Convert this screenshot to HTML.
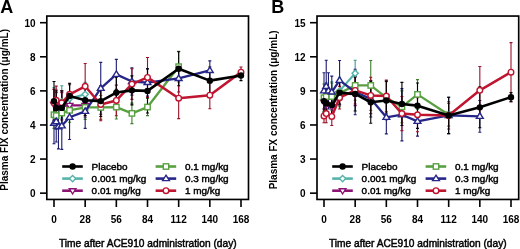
<!DOCTYPE html>
<html><head><meta charset="utf-8"><style>
html,body{margin:0;padding:0;background:#fff;}
svg{display:block;will-change:transform;filter:blur(0.35px);}
text{font-family:"Liberation Sans",sans-serif;fill:#000;}
.tk{font-size:10px;font-weight:bold;}
.let{font-size:18px;font-weight:bold;}
.yl{font-size:10px;font-weight:bold;}
.xl{font-size:10px;stroke:#000;stroke-width:0.45px;}
.lg{font-size:9.95px;stroke:#000;stroke-width:0.45px;}
</style></head><body>
<svg width="520" height="249" viewBox="0 0 520 249">
<rect width="520" height="249" fill="#fff"/>
<rect x="46.8" y="16.05" width="201.7" height="183.4" fill="none" stroke="#000" stroke-width="1.65"/>
<line x1="40" y1="193.15" x2="47" y2="193.15" stroke="#000" stroke-width="1.6"/>
<text x="35.6" y="197.45" text-anchor="end" class="tk">0</text>
<line x1="40" y1="159.06" x2="47" y2="159.06" stroke="#000" stroke-width="1.6"/>
<text x="35.6" y="163.36" text-anchor="end" class="tk">2</text>
<line x1="40" y1="124.97" x2="47" y2="124.97" stroke="#000" stroke-width="1.6"/>
<text x="35.6" y="129.27" text-anchor="end" class="tk">4</text>
<line x1="40" y1="90.88" x2="47" y2="90.88" stroke="#000" stroke-width="1.6"/>
<text x="35.6" y="95.18" text-anchor="end" class="tk">6</text>
<line x1="40" y1="56.79" x2="47" y2="56.79" stroke="#000" stroke-width="1.6"/>
<text x="35.6" y="61.09" text-anchor="end" class="tk">8</text>
<line x1="40" y1="22.70" x2="47" y2="22.70" stroke="#000" stroke-width="1.6"/>
<text x="35.6" y="27.00" text-anchor="end" class="tk">10</text>
<line x1="54.00" y1="200" x2="54.00" y2="207" stroke="#000" stroke-width="1.6"/>
<text x="54.00" y="222.5" text-anchor="middle" class="tk">0</text>
<line x1="85.17" y1="200" x2="85.17" y2="207" stroke="#000" stroke-width="1.6"/>
<text x="85.17" y="222.5" text-anchor="middle" class="tk">28</text>
<line x1="116.33" y1="200" x2="116.33" y2="207" stroke="#000" stroke-width="1.6"/>
<text x="116.33" y="222.5" text-anchor="middle" class="tk">56</text>
<line x1="147.50" y1="200" x2="147.50" y2="207" stroke="#000" stroke-width="1.6"/>
<text x="147.50" y="222.5" text-anchor="middle" class="tk">84</text>
<line x1="178.67" y1="200" x2="178.67" y2="207" stroke="#000" stroke-width="1.6"/>
<text x="178.67" y="222.5" text-anchor="middle" class="tk">112</text>
<line x1="209.83" y1="200" x2="209.83" y2="207" stroke="#000" stroke-width="1.6"/>
<text x="209.83" y="222.5" text-anchor="middle" class="tk">140</text>
<line x1="241.00" y1="200" x2="241.00" y2="207" stroke="#000" stroke-width="1.6"/>
<text x="241.00" y="222.5" text-anchor="middle" class="tk">168</text>
<text x="0.3" y="12.6" class="let">A</text>
<text transform="translate(7.6,109.9) rotate(-90)" text-anchor="middle" class="yl">Plasma FIX concentration (μg/mL)</text>
<text x="59.0" y="246.5" textLength="177.6" lengthAdjust="spacingAndGlyphs" class="xl">Time after ACE910 administration (day)</text>
<path d="M54.00 87.47V118.15M52.50 87.47H55.50M52.50 118.15H55.50" stroke="#3f9a92" stroke-width="1.1" fill="none"/>
<path d="M56.23 89.18V119.86M54.73 89.18H57.73M54.73 119.86H57.73" stroke="#3f9a92" stroke-width="1.1" fill="none"/>
<path d="M61.79 85.77V118.15M60.29 85.77H63.29M60.29 118.15H63.29" stroke="#3f9a92" stroke-width="1.1" fill="none"/>
<path d="M69.58 84.91V112.19M68.08 84.91H71.08M68.08 112.19H71.08" stroke="#3f9a92" stroke-width="1.1" fill="none"/>
<path d="M85.17 82.36V106.22M83.67 82.36H86.67M83.67 106.22H86.67" stroke="#3f9a92" stroke-width="1.1" fill="none"/>
<path d="M54.00 89.18V119.86M52.50 89.18H55.50M52.50 119.86H55.50" stroke="#700c5c" stroke-width="1.1" fill="none"/>
<path d="M56.23 92.58V119.86M54.73 92.58H57.73M54.73 119.86H57.73" stroke="#700c5c" stroke-width="1.1" fill="none"/>
<path d="M61.79 92.58V119.86M60.29 92.58H63.29M60.29 119.86H63.29" stroke="#700c5c" stroke-width="1.1" fill="none"/>
<path d="M69.58 93.44V117.30M68.08 93.44H71.08M68.08 117.30H71.08" stroke="#700c5c" stroke-width="1.1" fill="none"/>
<path d="M85.17 93.44V117.30M83.67 93.44H86.67M83.67 117.30H86.67" stroke="#700c5c" stroke-width="1.1" fill="none"/>
<path d="M54.00 101.11V128.38M52.50 101.11H55.50M52.50 128.38H55.50" stroke="#3f7f30" stroke-width="1.1" fill="none"/>
<path d="M56.23 101.96V129.23M54.73 101.96H57.73M54.73 129.23H57.73" stroke="#3f7f30" stroke-width="1.1" fill="none"/>
<path d="M61.79 99.40V126.67M60.29 99.40H63.29M60.29 126.67H63.29" stroke="#3f7f30" stroke-width="1.1" fill="none"/>
<path d="M69.58 98.38V122.24M68.08 98.38H71.08M68.08 122.24H71.08" stroke="#3f7f30" stroke-width="1.1" fill="none"/>
<path d="M85.17 95.48V119.35M83.67 95.48H86.67M83.67 119.35H86.67" stroke="#3f7f30" stroke-width="1.1" fill="none"/>
<path d="M100.75 95.48V119.35M99.25 95.48H102.25M99.25 119.35H102.25" stroke="#3f7f30" stroke-width="1.1" fill="none"/>
<path d="M116.33 95.14V119.00M114.83 95.14H117.83M114.83 119.00H117.83" stroke="#3f7f30" stroke-width="1.1" fill="none"/>
<path d="M131.92 103.15V123.61M130.42 103.15H133.42M130.42 123.61H133.42" stroke="#3f7f30" stroke-width="1.1" fill="none"/>
<path d="M147.50 98.55V115.60M146.00 98.55H149.00M146.00 115.60H149.00" stroke="#3f7f30" stroke-width="1.1" fill="none"/>
<path d="M178.67 51.34V82.02M177.17 51.34H180.17M177.17 82.02H180.17" stroke="#3f7f30" stroke-width="1.1" fill="none"/>
<path d="M54.00 102.81V143.72M52.50 102.81H55.50M52.50 143.72H55.50" stroke="#1c1c70" stroke-width="1.1" fill="none"/>
<path d="M56.23 101.11V142.01M54.73 101.11H57.73M54.73 142.01H57.73" stroke="#1c1c70" stroke-width="1.1" fill="none"/>
<path d="M58.45 104.52V148.83M56.95 104.52H59.95M56.95 148.83H59.95" stroke="#1c1c70" stroke-width="1.1" fill="none"/>
<path d="M61.79 102.30V149.34M60.29 102.30H63.29M60.29 149.34H63.29" stroke="#1c1c70" stroke-width="1.1" fill="none"/>
<path d="M69.58 95.14V139.46M68.08 95.14H71.08M68.08 139.46H71.08" stroke="#1c1c70" stroke-width="1.1" fill="none"/>
<path d="M85.17 94.29V128.38M83.67 94.29H86.67M83.67 128.38H86.67" stroke="#1c1c70" stroke-width="1.1" fill="none"/>
<path d="M100.75 62.41V114.23M99.25 62.41H102.25M99.25 114.23H102.25" stroke="#1c1c70" stroke-width="1.1" fill="none"/>
<path d="M116.33 59.35V89.35M114.83 59.35H117.83M114.83 89.35H117.83" stroke="#1c1c70" stroke-width="1.1" fill="none"/>
<path d="M131.92 67.87V95.14M130.42 67.87H133.42M130.42 95.14H133.42" stroke="#1c1c70" stroke-width="1.1" fill="none"/>
<path d="M147.50 68.89V96.16M146.00 68.89H149.00M146.00 96.16H149.00" stroke="#1c1c70" stroke-width="1.1" fill="none"/>
<path d="M178.67 64.80V92.07M177.17 64.80H180.17M177.17 92.07H180.17" stroke="#1c1c70" stroke-width="1.1" fill="none"/>
<path d="M209.83 60.88V79.97M208.33 60.88H211.33M208.33 79.97H211.33" stroke="#1c1c70" stroke-width="1.1" fill="none"/>
<path d="M54.00 89.18V116.45M52.50 89.18H55.50M52.50 116.45H55.50" stroke="#9c1228" stroke-width="1.1" fill="none"/>
<path d="M56.23 86.11V114.40M54.73 86.11H57.73M54.73 114.40H57.73" stroke="#9c1228" stroke-width="1.1" fill="none"/>
<path d="M61.79 90.88V114.74M60.29 90.88H63.29M60.29 114.74H63.29" stroke="#9c1228" stroke-width="1.1" fill="none"/>
<path d="M69.58 84.06V104.52M68.08 84.06H71.08M68.08 104.52H71.08" stroke="#9c1228" stroke-width="1.1" fill="none"/>
<path d="M85.17 63.44V109.12M83.67 63.44H86.67M83.67 109.12H86.67" stroke="#9c1228" stroke-width="1.1" fill="none"/>
<path d="M100.75 88.32V120.71M99.25 88.32H102.25M99.25 120.71H102.25" stroke="#9c1228" stroke-width="1.1" fill="none"/>
<path d="M116.33 85.08V115.77M114.83 85.08H117.83M114.83 115.77H117.83" stroke="#9c1228" stroke-width="1.1" fill="none"/>
<path d="M131.92 68.72V99.40M130.42 68.72H133.42M130.42 99.40H133.42" stroke="#9c1228" stroke-width="1.1" fill="none"/>
<path d="M147.50 57.47V97.36M146.00 57.47H149.00M146.00 97.36H149.00" stroke="#9c1228" stroke-width="1.1" fill="none"/>
<path d="M178.67 77.76V118.66M177.17 77.76H180.17M177.17 118.66H180.17" stroke="#9c1228" stroke-width="1.1" fill="none"/>
<path d="M209.83 81.51V108.78M208.33 81.51H211.33M208.33 108.78H211.33" stroke="#9c1228" stroke-width="1.1" fill="none"/>
<path d="M241.00 67.02V77.24M239.50 67.02H242.50M239.50 77.24H242.50" stroke="#9c1228" stroke-width="1.1" fill="none"/>
<path d="M54.00 81.51V120.71M52.50 81.51H55.50M52.50 120.71H55.50" stroke="#000000" stroke-width="1.1" fill="none"/>
<path d="M56.23 90.88V124.97M54.73 90.88H57.73M54.73 124.97H57.73" stroke="#000000" stroke-width="1.1" fill="none"/>
<path d="M61.79 90.88V124.97M60.29 90.88H63.29M60.29 124.97H63.29" stroke="#000000" stroke-width="1.1" fill="none"/>
<path d="M69.58 83.21V108.78M68.08 83.21H71.08M68.08 108.78H71.08" stroke="#000000" stroke-width="1.1" fill="none"/>
<path d="M85.17 84.91V115.60M83.67 84.91H86.67M83.67 115.60H86.67" stroke="#000000" stroke-width="1.1" fill="none"/>
<path d="M100.75 85.77V116.45M99.25 85.77H102.25M99.25 116.45H102.25" stroke="#000000" stroke-width="1.1" fill="none"/>
<path d="M116.33 77.24V107.92M114.83 77.24H117.83M114.83 107.92H117.83" stroke="#000000" stroke-width="1.1" fill="none"/>
<path d="M131.92 75.88V104.86M130.42 75.88H133.42M130.42 104.86H133.42" stroke="#000000" stroke-width="1.1" fill="none"/>
<path d="M147.50 68.72V113.04M146.00 68.72H149.00M146.00 113.04H149.00" stroke="#000000" stroke-width="1.1" fill="none"/>
<path d="M178.67 51.68V85.77M177.17 51.68H180.17M177.17 85.77H180.17" stroke="#000000" stroke-width="1.1" fill="none"/>
<path d="M209.83 67.02V94.29M208.33 67.02H211.33M208.33 94.29H211.33" stroke="#000000" stroke-width="1.1" fill="none"/>
<path d="M241.00 70.43V80.65M239.50 70.43H242.50M239.50 80.65H242.50" stroke="#000000" stroke-width="1.1" fill="none"/>
<path d="M54.00 102.81 L56.23 104.52 L61.79 101.96 L69.58 98.55 L85.17 94.29" stroke="#56b4ab" stroke-width="2.1" fill="none" stroke-linejoin="round"/>
<path d="M54.00 99.71L57.10 102.81L54.00 105.91L50.90 102.81Z" fill="#fff" stroke="#56b4ab" stroke-width="1.4"/>
<path d="M56.23 101.42L59.33 104.52L56.23 107.62L53.13 104.52Z" fill="#fff" stroke="#56b4ab" stroke-width="1.4"/>
<path d="M61.79 98.86L64.89 101.96L61.79 105.06L58.69 101.96Z" fill="#fff" stroke="#56b4ab" stroke-width="1.4"/>
<path d="M69.58 95.45L72.68 98.55L69.58 101.65L66.48 98.55Z" fill="#fff" stroke="#56b4ab" stroke-width="1.4"/>
<path d="M85.17 91.19L88.27 94.29L85.17 97.39L82.07 94.29Z" fill="#fff" stroke="#56b4ab" stroke-width="1.4"/>
<path d="M54.00 104.52 L56.23 106.22 L61.79 106.22 L69.58 105.37 L85.17 105.37" stroke="#8c1274" stroke-width="2.1" fill="none" stroke-linejoin="round"/>
<path d="M54.00 107.82L57.30 102.54L50.70 102.54Z" fill="#fff" stroke="#8c1274" stroke-width="1.4"/>
<path d="M56.23 109.52L59.53 104.24L52.93 104.24Z" fill="#fff" stroke="#8c1274" stroke-width="1.4"/>
<path d="M61.79 109.52L65.09 104.24L58.49 104.24Z" fill="#fff" stroke="#8c1274" stroke-width="1.4"/>
<path d="M69.58 108.67L72.88 103.39L66.28 103.39Z" fill="#fff" stroke="#8c1274" stroke-width="1.4"/>
<path d="M85.17 108.67L88.47 103.39L81.87 103.39Z" fill="#fff" stroke="#8c1274" stroke-width="1.4"/>
<path d="M54.00 114.74 L56.23 115.60 L61.79 113.04 L69.58 110.31 L85.17 107.41 L100.75 107.41 L116.33 107.07 L131.92 113.38 L147.50 107.07 L178.67 66.68" stroke="#58a042" stroke-width="2.3" fill="none" stroke-linejoin="round"/>
<rect x="51.30" y="112.04" width="5.40" height="5.40" fill="#fff" stroke="#58a042" stroke-width="1.4"/>
<rect x="53.53" y="112.90" width="5.40" height="5.40" fill="#fff" stroke="#58a042" stroke-width="1.4"/>
<rect x="59.09" y="110.34" width="5.40" height="5.40" fill="#fff" stroke="#58a042" stroke-width="1.4"/>
<rect x="66.88" y="107.61" width="5.40" height="5.40" fill="#fff" stroke="#58a042" stroke-width="1.4"/>
<rect x="82.47" y="104.71" width="5.40" height="5.40" fill="#fff" stroke="#58a042" stroke-width="1.4"/>
<rect x="98.05" y="104.71" width="5.40" height="5.40" fill="#fff" stroke="#58a042" stroke-width="1.4"/>
<rect x="113.63" y="104.37" width="5.40" height="5.40" fill="#fff" stroke="#58a042" stroke-width="1.4"/>
<rect x="129.22" y="110.68" width="5.40" height="5.40" fill="#fff" stroke="#58a042" stroke-width="1.4"/>
<rect x="144.80" y="104.37" width="5.40" height="5.40" fill="#fff" stroke="#58a042" stroke-width="1.4"/>
<rect x="175.97" y="63.98" width="5.40" height="5.40" fill="#fff" stroke="#58a042" stroke-width="1.4"/>
<path d="M54.00 123.27 L56.23 121.56 L58.45 126.67 L61.79 125.82 L69.58 117.30 L85.17 111.33 L100.75 88.32 L116.33 74.35 L131.92 81.51 L147.50 82.53 L178.67 78.44 L209.83 70.43" stroke="#262688" stroke-width="2.3" fill="none" stroke-linejoin="round"/>
<path d="M54.00 119.87L57.40 125.31L50.60 125.31Z" fill="#fff" stroke="#262688" stroke-width="1.4"/>
<path d="M56.23 118.16L59.63 123.60L52.83 123.60Z" fill="#fff" stroke="#262688" stroke-width="1.4"/>
<path d="M58.45 123.27L61.85 128.71L55.05 128.71Z" fill="#fff" stroke="#262688" stroke-width="1.4"/>
<path d="M61.79 122.42L65.19 127.86L58.39 127.86Z" fill="#fff" stroke="#262688" stroke-width="1.4"/>
<path d="M69.58 113.90L72.98 119.34L66.18 119.34Z" fill="#fff" stroke="#262688" stroke-width="1.4"/>
<path d="M85.17 107.93L88.57 113.37L81.77 113.37Z" fill="#fff" stroke="#262688" stroke-width="1.4"/>
<path d="M100.75 84.92L104.15 90.36L97.35 90.36Z" fill="#fff" stroke="#262688" stroke-width="1.4"/>
<path d="M116.33 70.95L119.73 76.39L112.93 76.39Z" fill="#fff" stroke="#262688" stroke-width="1.4"/>
<path d="M131.92 78.11L135.32 83.55L128.52 83.55Z" fill="#fff" stroke="#262688" stroke-width="1.4"/>
<path d="M147.50 79.13L150.90 84.57L144.10 84.57Z" fill="#fff" stroke="#262688" stroke-width="1.4"/>
<path d="M178.67 75.04L182.07 80.48L175.27 80.48Z" fill="#fff" stroke="#262688" stroke-width="1.4"/>
<path d="M209.83 67.03L213.23 72.47L206.43 72.47Z" fill="#fff" stroke="#262688" stroke-width="1.4"/>
<path d="M54.00 102.81 L56.23 100.25 L61.79 102.81 L69.58 94.29 L85.17 86.28 L100.75 104.52 L116.33 100.43 L131.92 84.06 L147.50 77.41 L178.67 98.21 L209.83 95.14 L241.00 72.13" stroke="#bf1530" stroke-width="2.5" fill="none" stroke-linejoin="round"/>
<circle cx="54.00" cy="102.81" r="2.80" fill="#fff" stroke="#bf1530" stroke-width="1.4"/>
<circle cx="56.23" cy="100.25" r="2.80" fill="#fff" stroke="#bf1530" stroke-width="1.4"/>
<circle cx="61.79" cy="102.81" r="2.80" fill="#fff" stroke="#bf1530" stroke-width="1.4"/>
<circle cx="69.58" cy="94.29" r="2.80" fill="#fff" stroke="#bf1530" stroke-width="1.4"/>
<circle cx="85.17" cy="86.28" r="2.80" fill="#fff" stroke="#bf1530" stroke-width="1.4"/>
<circle cx="100.75" cy="104.52" r="2.80" fill="#fff" stroke="#bf1530" stroke-width="1.4"/>
<circle cx="116.33" cy="100.43" r="2.80" fill="#fff" stroke="#bf1530" stroke-width="1.4"/>
<circle cx="131.92" cy="84.06" r="2.80" fill="#fff" stroke="#bf1530" stroke-width="1.4"/>
<circle cx="147.50" cy="77.41" r="2.80" fill="#fff" stroke="#bf1530" stroke-width="1.4"/>
<circle cx="178.67" cy="98.21" r="2.80" fill="#fff" stroke="#bf1530" stroke-width="1.4"/>
<circle cx="209.83" cy="95.14" r="2.80" fill="#fff" stroke="#bf1530" stroke-width="1.4"/>
<circle cx="241.00" cy="72.13" r="2.80" fill="#fff" stroke="#bf1530" stroke-width="1.4"/>
<path d="M54.00 101.11 L56.23 107.92 L61.79 107.92 L69.58 95.99 L85.17 100.25 L100.75 101.11 L116.33 92.58 L131.92 90.37 L147.50 90.88 L178.67 68.72 L209.83 80.65 L241.00 75.54" stroke="#000000" stroke-width="2.6" fill="none" stroke-linejoin="round"/>
<circle cx="54.00" cy="101.11" r="3.20" fill="#000000"/>
<circle cx="56.23" cy="107.92" r="3.20" fill="#000000"/>
<circle cx="61.79" cy="107.92" r="3.20" fill="#000000"/>
<circle cx="69.58" cy="95.99" r="3.20" fill="#000000"/>
<circle cx="85.17" cy="100.25" r="3.20" fill="#000000"/>
<circle cx="100.75" cy="101.11" r="3.20" fill="#000000"/>
<circle cx="116.33" cy="92.58" r="3.20" fill="#000000"/>
<circle cx="131.92" cy="90.37" r="3.20" fill="#000000"/>
<circle cx="147.50" cy="90.88" r="3.20" fill="#000000"/>
<circle cx="178.67" cy="68.72" r="3.20" fill="#000000"/>
<circle cx="209.83" cy="80.65" r="3.20" fill="#000000"/>
<circle cx="241.00" cy="75.54" r="3.20" fill="#000000"/>
<line x1="62.20" y1="166.50" x2="82.80" y2="166.50" stroke="#000000" stroke-width="2.6"/>
<circle cx="72.60" cy="166.50" r="3.20" fill="#000000"/>
<text transform="translate(91.60,170.20) scale(1,0.89)" class="lg">Placebo</text>
<line x1="62.20" y1="178.60" x2="82.80" y2="178.60" stroke="#56b4ab" stroke-width="2.6"/>
<path d="M72.60 175.50L75.70 178.60L72.60 181.70L69.50 178.60Z" fill="#fff" stroke="#56b4ab" stroke-width="1.4"/>
<text transform="translate(91.60,182.30) scale(1,0.89)" class="lg">0.001 mg/kg</text>
<line x1="62.20" y1="190.70" x2="82.80" y2="190.70" stroke="#8c1274" stroke-width="2.6"/>
<path d="M72.60 194.00L75.90 188.72L69.30 188.72Z" fill="#fff" stroke="#8c1274" stroke-width="1.4"/>
<text transform="translate(91.60,194.40) scale(1,0.89)" class="lg">0.01 mg/kg</text>
<line x1="155.60" y1="166.50" x2="176.20" y2="166.50" stroke="#58a042" stroke-width="2.6"/>
<rect x="163.30" y="163.80" width="5.40" height="5.40" fill="#fff" stroke="#58a042" stroke-width="1.4"/>
<text transform="translate(185.00,170.20) scale(1,0.89)" class="lg">0.1 mg/kg</text>
<line x1="155.60" y1="178.60" x2="176.20" y2="178.60" stroke="#262688" stroke-width="2.6"/>
<path d="M166.00 175.20L169.40 180.64L162.60 180.64Z" fill="#fff" stroke="#262688" stroke-width="1.4"/>
<text transform="translate(185.00,182.30) scale(1,0.89)" class="lg">0.3 mg/kg</text>
<line x1="155.60" y1="190.70" x2="176.20" y2="190.70" stroke="#bf1530" stroke-width="2.6"/>
<circle cx="166.00" cy="190.70" r="2.80" fill="#fff" stroke="#bf1530" stroke-width="1.4"/>
<text transform="translate(185.00,194.40) scale(1,0.89)" class="lg">1 mg/kg</text>
<rect x="317.0" y="16.05" width="201.7" height="183.4" fill="none" stroke="#000" stroke-width="1.65"/>
<line x1="310" y1="193.15" x2="317" y2="193.15" stroke="#000" stroke-width="1.6"/>
<text x="305.6" y="197.45" text-anchor="end" class="tk">0</text>
<line x1="310" y1="159.06" x2="317" y2="159.06" stroke="#000" stroke-width="1.6"/>
<text x="305.6" y="163.36" text-anchor="end" class="tk">3</text>
<line x1="310" y1="124.97" x2="317" y2="124.97" stroke="#000" stroke-width="1.6"/>
<text x="305.6" y="129.27" text-anchor="end" class="tk">6</text>
<line x1="310" y1="90.88" x2="317" y2="90.88" stroke="#000" stroke-width="1.6"/>
<text x="305.6" y="95.18" text-anchor="end" class="tk">9</text>
<line x1="310" y1="56.79" x2="317" y2="56.79" stroke="#000" stroke-width="1.6"/>
<text x="305.6" y="61.09" text-anchor="end" class="tk">12</text>
<line x1="310" y1="22.70" x2="317" y2="22.70" stroke="#000" stroke-width="1.6"/>
<text x="305.6" y="27.00" text-anchor="end" class="tk">15</text>
<line x1="324.00" y1="200" x2="324.00" y2="207" stroke="#000" stroke-width="1.6"/>
<text x="324.00" y="222.5" text-anchor="middle" class="tk">0</text>
<line x1="355.17" y1="200" x2="355.17" y2="207" stroke="#000" stroke-width="1.6"/>
<text x="355.17" y="222.5" text-anchor="middle" class="tk">28</text>
<line x1="386.33" y1="200" x2="386.33" y2="207" stroke="#000" stroke-width="1.6"/>
<text x="386.33" y="222.5" text-anchor="middle" class="tk">56</text>
<line x1="417.50" y1="200" x2="417.50" y2="207" stroke="#000" stroke-width="1.6"/>
<text x="417.50" y="222.5" text-anchor="middle" class="tk">84</text>
<line x1="448.67" y1="200" x2="448.67" y2="207" stroke="#000" stroke-width="1.6"/>
<text x="448.67" y="222.5" text-anchor="middle" class="tk">112</text>
<line x1="479.83" y1="200" x2="479.83" y2="207" stroke="#000" stroke-width="1.6"/>
<text x="479.83" y="222.5" text-anchor="middle" class="tk">140</text>
<line x1="511.00" y1="200" x2="511.00" y2="207" stroke="#000" stroke-width="1.6"/>
<text x="511.00" y="222.5" text-anchor="middle" class="tk">168</text>
<text x="271.2" y="12.6" class="let">B</text>
<text transform="translate(277.2,109.9) rotate(-90)" text-anchor="middle" class="yl">Plasma FX concentration (μg/mL)</text>
<text x="329.0" y="246.5" textLength="177.6" lengthAdjust="spacingAndGlyphs" class="xl">Time after ACE910 administration (day)</text>
<path d="M324.00 88.61V111.33M322.50 88.61H325.50M322.50 111.33H325.50" stroke="#3f9a92" stroke-width="1.1" fill="none"/>
<path d="M326.23 86.33V109.06M324.73 86.33H327.73M324.73 109.06H327.73" stroke="#3f9a92" stroke-width="1.1" fill="none"/>
<path d="M331.79 81.79V109.06M330.29 81.79H333.29M330.29 109.06H333.29" stroke="#3f9a92" stroke-width="1.1" fill="none"/>
<path d="M339.58 77.24V104.52M338.08 77.24H341.08M338.08 104.52H341.08" stroke="#3f9a92" stroke-width="1.1" fill="none"/>
<path d="M355.17 60.20V86.33M353.67 60.20H356.67M353.67 86.33H356.67" stroke="#3f9a92" stroke-width="1.1" fill="none"/>
<path d="M324.00 90.88V113.61M322.50 90.88H325.50M322.50 113.61H325.50" stroke="#700c5c" stroke-width="1.1" fill="none"/>
<path d="M326.23 93.15V115.88M324.73 93.15H327.73M324.73 115.88H327.73" stroke="#700c5c" stroke-width="1.1" fill="none"/>
<path d="M331.79 95.43V118.15M330.29 95.43H333.29M330.29 118.15H333.29" stroke="#700c5c" stroke-width="1.1" fill="none"/>
<path d="M339.58 82.36V105.08M338.08 82.36H341.08M338.08 105.08H341.08" stroke="#700c5c" stroke-width="1.1" fill="none"/>
<path d="M355.17 82.93V105.65M353.67 82.93H356.67M353.67 105.65H356.67" stroke="#700c5c" stroke-width="1.1" fill="none"/>
<path d="M324.00 84.06V111.33M322.50 84.06H325.50M322.50 111.33H325.50" stroke="#3f7f30" stroke-width="1.1" fill="none"/>
<path d="M326.23 82.93V110.20M324.73 82.93H327.73M324.73 110.20H327.73" stroke="#3f7f30" stroke-width="1.1" fill="none"/>
<path d="M331.79 82.93V110.20M330.29 82.93H333.29M330.29 110.20H333.29" stroke="#3f7f30" stroke-width="1.1" fill="none"/>
<path d="M339.58 79.52V106.79M338.08 79.52H341.08M338.08 106.79H341.08" stroke="#3f7f30" stroke-width="1.1" fill="none"/>
<path d="M355.17 70.65V100.20M353.67 70.65H356.67M353.67 100.20H356.67" stroke="#3f7f30" stroke-width="1.1" fill="none"/>
<path d="M370.75 60.43V110.42M369.25 60.43H372.25M369.25 110.42H372.25" stroke="#3f7f30" stroke-width="1.1" fill="none"/>
<path d="M386.33 81.79V113.61M384.83 81.79H387.83M384.83 113.61H387.83" stroke="#3f7f30" stroke-width="1.1" fill="none"/>
<path d="M401.92 90.88V122.70M400.42 90.88H403.42M400.42 122.70H403.42" stroke="#3f7f30" stroke-width="1.1" fill="none"/>
<path d="M417.50 79.63V109.17M416.00 79.63H419.00M416.00 109.17H419.00" stroke="#3f7f30" stroke-width="1.1" fill="none"/>
<path d="M448.67 103.38V126.11M447.17 103.38H450.17M447.17 126.11H450.17" stroke="#3f7f30" stroke-width="1.1" fill="none"/>
<path d="M324.00 72.70V109.06M322.50 72.70H325.50M322.50 109.06H325.50" stroke="#1c1c70" stroke-width="1.1" fill="none"/>
<path d="M326.23 60.20V112.47M324.73 60.20H327.73M324.73 112.47H327.73" stroke="#1c1c70" stroke-width="1.1" fill="none"/>
<path d="M328.45 72.70V109.06M326.95 72.70H329.95M326.95 109.06H329.95" stroke="#1c1c70" stroke-width="1.1" fill="none"/>
<path d="M331.79 76.11V107.92M330.29 76.11H333.29M330.29 107.92H333.29" stroke="#1c1c70" stroke-width="1.1" fill="none"/>
<path d="M339.58 60.43V100.20M338.08 60.43H341.08M338.08 100.20H341.08" stroke="#1c1c70" stroke-width="1.1" fill="none"/>
<path d="M355.17 69.29V114.74M353.67 69.29H356.67M353.67 114.74H356.67" stroke="#1c1c70" stroke-width="1.1" fill="none"/>
<path d="M370.75 80.65V117.02M369.25 80.65H372.25M369.25 117.02H372.25" stroke="#1c1c70" stroke-width="1.1" fill="none"/>
<path d="M386.33 100.88V133.83M384.83 100.88H387.83M384.83 133.83H387.83" stroke="#1c1c70" stroke-width="1.1" fill="none"/>
<path d="M401.92 88.61V140.88M400.42 88.61H403.42M400.42 140.88H403.42" stroke="#1c1c70" stroke-width="1.1" fill="none"/>
<path d="M417.50 106.56V136.11M416.00 106.56H419.00M416.00 136.11H419.00" stroke="#1c1c70" stroke-width="1.1" fill="none"/>
<path d="M448.67 97.24V133.61M447.17 97.24H450.17M447.17 133.61H450.17" stroke="#1c1c70" stroke-width="1.1" fill="none"/>
<path d="M479.83 100.43V132.24M478.33 100.43H481.33M478.33 132.24H481.33" stroke="#1c1c70" stroke-width="1.1" fill="none"/>
<path d="M324.00 109.06V122.70M322.50 109.06H325.50M322.50 122.70H325.50" stroke="#9c1228" stroke-width="1.1" fill="none"/>
<path d="M326.23 104.52V122.70M324.73 104.52H327.73M324.73 122.70H327.73" stroke="#9c1228" stroke-width="1.1" fill="none"/>
<path d="M331.79 107.36V125.54M330.29 107.36H333.29M330.29 125.54H333.29" stroke="#9c1228" stroke-width="1.1" fill="none"/>
<path d="M339.58 86.33V109.06M338.08 86.33H341.08M338.08 109.06H341.08" stroke="#9c1228" stroke-width="1.1" fill="none"/>
<path d="M355.17 76.79V104.06M353.67 76.79H356.67M353.67 104.06H356.67" stroke="#9c1228" stroke-width="1.1" fill="none"/>
<path d="M370.75 77.24V113.61M369.25 77.24H372.25M369.25 113.61H372.25" stroke="#9c1228" stroke-width="1.1" fill="none"/>
<path d="M386.33 80.08V111.90M384.83 80.08H387.83M384.83 111.90H387.83" stroke="#9c1228" stroke-width="1.1" fill="none"/>
<path d="M401.92 96.56V130.65M400.42 96.56H403.42M400.42 130.65H403.42" stroke="#9c1228" stroke-width="1.1" fill="none"/>
<path d="M417.50 97.70V131.79M416.00 97.70H419.00M416.00 131.79H419.00" stroke="#9c1228" stroke-width="1.1" fill="none"/>
<path d="M448.67 101.79V129.06M447.17 101.79H450.17M447.17 129.06H450.17" stroke="#9c1228" stroke-width="1.1" fill="none"/>
<path d="M479.83 66.45V114.17M478.33 66.45H481.33M478.33 114.17H481.33" stroke="#9c1228" stroke-width="1.1" fill="none"/>
<path d="M511.00 42.59V101.68M509.50 42.59H512.50M509.50 101.68H512.50" stroke="#9c1228" stroke-width="1.1" fill="none"/>
<path d="M324.00 89.74V112.47M322.50 89.74H325.50M322.50 112.47H325.50" stroke="#000000" stroke-width="1.1" fill="none"/>
<path d="M326.23 92.02V114.74M324.73 92.02H327.73M324.73 114.74H327.73" stroke="#000000" stroke-width="1.1" fill="none"/>
<path d="M331.79 93.72V116.45M330.29 93.72H333.29M330.29 116.45H333.29" stroke="#000000" stroke-width="1.1" fill="none"/>
<path d="M339.58 81.22V103.95M338.08 81.22H341.08M338.08 103.95H341.08" stroke="#000000" stroke-width="1.1" fill="none"/>
<path d="M355.17 76.90V110.99M353.67 76.90H356.67M353.67 110.99H356.67" stroke="#000000" stroke-width="1.1" fill="none"/>
<path d="M370.75 81.22V123.27M369.25 81.22H372.25M369.25 123.27H372.25" stroke="#000000" stroke-width="1.1" fill="none"/>
<path d="M386.33 81.11V119.74M384.83 81.11H387.83M384.83 119.74H387.83" stroke="#000000" stroke-width="1.1" fill="none"/>
<path d="M401.92 82.36V125.54M400.42 82.36H403.42M400.42 125.54H403.42" stroke="#000000" stroke-width="1.1" fill="none"/>
<path d="M417.50 82.93V128.38M416.00 82.93H419.00M416.00 128.38H419.00" stroke="#000000" stroke-width="1.1" fill="none"/>
<path d="M448.67 97.24V133.61M447.17 97.24H450.17M447.17 133.61H450.17" stroke="#000000" stroke-width="1.1" fill="none"/>
<path d="M479.83 86.90V127.81M478.33 86.90H481.33M478.33 127.81H481.33" stroke="#000000" stroke-width="1.1" fill="none"/>
<path d="M511.00 92.58V101.68M509.50 92.58H512.50M509.50 101.68H512.50" stroke="#000000" stroke-width="1.1" fill="none"/>
<path d="M324.00 99.97 L326.23 97.70 L331.79 95.43 L339.58 90.88 L355.17 73.27" stroke="#56b4ab" stroke-width="2.1" fill="none" stroke-linejoin="round"/>
<path d="M324.00 96.87L327.10 99.97L324.00 103.07L320.90 99.97Z" fill="#fff" stroke="#56b4ab" stroke-width="1.4"/>
<path d="M326.23 94.60L329.33 97.70L326.23 100.80L323.13 97.70Z" fill="#fff" stroke="#56b4ab" stroke-width="1.4"/>
<path d="M331.79 92.33L334.89 95.43L331.79 98.53L328.69 95.43Z" fill="#fff" stroke="#56b4ab" stroke-width="1.4"/>
<path d="M339.58 87.78L342.68 90.88L339.58 93.98L336.48 90.88Z" fill="#fff" stroke="#56b4ab" stroke-width="1.4"/>
<path d="M355.17 70.17L358.27 73.27L355.17 76.37L352.07 73.27Z" fill="#fff" stroke="#56b4ab" stroke-width="1.4"/>
<path d="M324.00 102.24 L326.23 104.52 L331.79 106.79 L339.58 93.72 L355.17 94.29" stroke="#8c1274" stroke-width="2.1" fill="none" stroke-linejoin="round"/>
<path d="M324.00 105.54L327.30 100.26L320.70 100.26Z" fill="#fff" stroke="#8c1274" stroke-width="1.4"/>
<path d="M326.23 107.82L329.53 102.54L322.93 102.54Z" fill="#fff" stroke="#8c1274" stroke-width="1.4"/>
<path d="M331.79 110.09L335.09 104.81L328.49 104.81Z" fill="#fff" stroke="#8c1274" stroke-width="1.4"/>
<path d="M339.58 97.02L342.88 91.74L336.28 91.74Z" fill="#fff" stroke="#8c1274" stroke-width="1.4"/>
<path d="M355.17 97.59L358.47 92.31L351.87 92.31Z" fill="#fff" stroke="#8c1274" stroke-width="1.4"/>
<path d="M324.00 97.70 L326.23 96.56 L331.79 96.56 L339.58 93.15 L355.17 85.43 L370.75 85.43 L386.33 97.70 L401.92 106.79 L417.50 94.40 L448.67 114.74" stroke="#58a042" stroke-width="2.3" fill="none" stroke-linejoin="round"/>
<rect x="321.30" y="95.00" width="5.40" height="5.40" fill="#fff" stroke="#58a042" stroke-width="1.4"/>
<rect x="323.53" y="93.86" width="5.40" height="5.40" fill="#fff" stroke="#58a042" stroke-width="1.4"/>
<rect x="329.09" y="93.86" width="5.40" height="5.40" fill="#fff" stroke="#58a042" stroke-width="1.4"/>
<rect x="336.88" y="90.45" width="5.40" height="5.40" fill="#fff" stroke="#58a042" stroke-width="1.4"/>
<rect x="352.47" y="82.73" width="5.40" height="5.40" fill="#fff" stroke="#58a042" stroke-width="1.4"/>
<rect x="368.05" y="82.73" width="5.40" height="5.40" fill="#fff" stroke="#58a042" stroke-width="1.4"/>
<rect x="383.63" y="95.00" width="5.40" height="5.40" fill="#fff" stroke="#58a042" stroke-width="1.4"/>
<rect x="399.22" y="104.09" width="5.40" height="5.40" fill="#fff" stroke="#58a042" stroke-width="1.4"/>
<rect x="414.80" y="91.70" width="5.40" height="5.40" fill="#fff" stroke="#58a042" stroke-width="1.4"/>
<rect x="445.97" y="112.04" width="5.40" height="5.40" fill="#fff" stroke="#58a042" stroke-width="1.4"/>
<path d="M324.00 90.88 L326.23 86.33 L328.45 90.88 L331.79 92.02 L339.58 80.31 L355.17 92.02 L370.75 98.83 L386.33 117.36 L401.92 114.74 L417.50 121.33 L448.67 115.42 L479.83 116.33" stroke="#262688" stroke-width="2.3" fill="none" stroke-linejoin="round"/>
<path d="M324.00 87.48L327.40 92.92L320.60 92.92Z" fill="#fff" stroke="#262688" stroke-width="1.4"/>
<path d="M326.23 82.93L329.63 88.37L322.83 88.37Z" fill="#fff" stroke="#262688" stroke-width="1.4"/>
<path d="M328.45 87.48L331.85 92.92L325.05 92.92Z" fill="#fff" stroke="#262688" stroke-width="1.4"/>
<path d="M331.79 88.62L335.19 94.06L328.39 94.06Z" fill="#fff" stroke="#262688" stroke-width="1.4"/>
<path d="M339.58 76.91L342.98 82.35L336.18 82.35Z" fill="#fff" stroke="#262688" stroke-width="1.4"/>
<path d="M355.17 88.62L358.57 94.06L351.77 94.06Z" fill="#fff" stroke="#262688" stroke-width="1.4"/>
<path d="M370.75 95.43L374.15 100.87L367.35 100.87Z" fill="#fff" stroke="#262688" stroke-width="1.4"/>
<path d="M386.33 113.96L389.73 119.40L382.93 119.40Z" fill="#fff" stroke="#262688" stroke-width="1.4"/>
<path d="M401.92 111.34L405.32 116.78L398.52 116.78Z" fill="#fff" stroke="#262688" stroke-width="1.4"/>
<path d="M417.50 117.93L420.90 123.37L414.10 123.37Z" fill="#fff" stroke="#262688" stroke-width="1.4"/>
<path d="M448.67 112.02L452.07 117.46L445.27 117.46Z" fill="#fff" stroke="#262688" stroke-width="1.4"/>
<path d="M479.83 112.93L483.23 118.37L476.43 118.37Z" fill="#fff" stroke="#262688" stroke-width="1.4"/>
<path d="M324.00 115.88 L326.23 113.61 L331.79 116.45 L339.58 97.70 L355.17 90.43 L370.75 95.43 L386.33 95.99 L401.92 113.61 L417.50 114.74 L448.67 115.42 L479.83 90.31 L511.00 72.13" stroke="#bf1530" stroke-width="2.5" fill="none" stroke-linejoin="round"/>
<circle cx="324.00" cy="115.88" r="2.80" fill="#fff" stroke="#bf1530" stroke-width="1.4"/>
<circle cx="326.23" cy="113.61" r="2.80" fill="#fff" stroke="#bf1530" stroke-width="1.4"/>
<circle cx="331.79" cy="116.45" r="2.80" fill="#fff" stroke="#bf1530" stroke-width="1.4"/>
<circle cx="339.58" cy="97.70" r="2.80" fill="#fff" stroke="#bf1530" stroke-width="1.4"/>
<circle cx="355.17" cy="90.43" r="2.80" fill="#fff" stroke="#bf1530" stroke-width="1.4"/>
<circle cx="370.75" cy="95.43" r="2.80" fill="#fff" stroke="#bf1530" stroke-width="1.4"/>
<circle cx="386.33" cy="95.99" r="2.80" fill="#fff" stroke="#bf1530" stroke-width="1.4"/>
<circle cx="401.92" cy="113.61" r="2.80" fill="#fff" stroke="#bf1530" stroke-width="1.4"/>
<circle cx="417.50" cy="114.74" r="2.80" fill="#fff" stroke="#bf1530" stroke-width="1.4"/>
<circle cx="448.67" cy="115.42" r="2.80" fill="#fff" stroke="#bf1530" stroke-width="1.4"/>
<circle cx="479.83" cy="90.31" r="2.80" fill="#fff" stroke="#bf1530" stroke-width="1.4"/>
<circle cx="511.00" cy="72.13" r="2.80" fill="#fff" stroke="#bf1530" stroke-width="1.4"/>
<path d="M324.00 101.11 L326.23 103.38 L331.79 105.08 L339.58 92.58 L355.17 93.95 L370.75 102.24 L386.33 100.43 L401.92 103.95 L417.50 105.65 L448.67 115.42 L479.83 107.36 L511.00 97.13" stroke="#000000" stroke-width="2.6" fill="none" stroke-linejoin="round"/>
<circle cx="324.00" cy="101.11" r="3.20" fill="#000000"/>
<circle cx="326.23" cy="103.38" r="3.20" fill="#000000"/>
<circle cx="331.79" cy="105.08" r="3.20" fill="#000000"/>
<circle cx="339.58" cy="92.58" r="3.20" fill="#000000"/>
<circle cx="355.17" cy="93.95" r="3.20" fill="#000000"/>
<circle cx="370.75" cy="102.24" r="3.20" fill="#000000"/>
<circle cx="386.33" cy="100.43" r="3.20" fill="#000000"/>
<circle cx="401.92" cy="103.95" r="3.20" fill="#000000"/>
<circle cx="417.50" cy="105.65" r="3.20" fill="#000000"/>
<circle cx="448.67" cy="115.42" r="3.20" fill="#000000"/>
<circle cx="479.83" cy="107.36" r="3.20" fill="#000000"/>
<circle cx="511.00" cy="97.13" r="3.20" fill="#000000"/>
<line x1="332.20" y1="166.50" x2="352.80" y2="166.50" stroke="#000000" stroke-width="2.6"/>
<circle cx="342.60" cy="166.50" r="3.20" fill="#000000"/>
<text transform="translate(361.60,170.20) scale(1,0.89)" class="lg">Placebo</text>
<line x1="332.20" y1="178.60" x2="352.80" y2="178.60" stroke="#56b4ab" stroke-width="2.6"/>
<path d="M342.60 175.50L345.70 178.60L342.60 181.70L339.50 178.60Z" fill="#fff" stroke="#56b4ab" stroke-width="1.4"/>
<text transform="translate(361.60,182.30) scale(1,0.89)" class="lg">0.001 mg/kg</text>
<line x1="332.20" y1="190.70" x2="352.80" y2="190.70" stroke="#8c1274" stroke-width="2.6"/>
<path d="M342.60 194.00L345.90 188.72L339.30 188.72Z" fill="#fff" stroke="#8c1274" stroke-width="1.4"/>
<text transform="translate(361.60,194.40) scale(1,0.89)" class="lg">0.01 mg/kg</text>
<line x1="425.60" y1="166.50" x2="446.20" y2="166.50" stroke="#58a042" stroke-width="2.6"/>
<rect x="433.30" y="163.80" width="5.40" height="5.40" fill="#fff" stroke="#58a042" stroke-width="1.4"/>
<text transform="translate(455.00,170.20) scale(1,0.89)" class="lg">0.1 mg/kg</text>
<line x1="425.60" y1="178.60" x2="446.20" y2="178.60" stroke="#262688" stroke-width="2.6"/>
<path d="M436.00 175.20L439.40 180.64L432.60 180.64Z" fill="#fff" stroke="#262688" stroke-width="1.4"/>
<text transform="translate(455.00,182.30) scale(1,0.89)" class="lg">0.3 mg/kg</text>
<line x1="425.60" y1="190.70" x2="446.20" y2="190.70" stroke="#bf1530" stroke-width="2.6"/>
<circle cx="436.00" cy="190.70" r="2.80" fill="#fff" stroke="#bf1530" stroke-width="1.4"/>
<text transform="translate(455.00,194.40) scale(1,0.89)" class="lg">1 mg/kg</text>
</svg>
</body></html>
